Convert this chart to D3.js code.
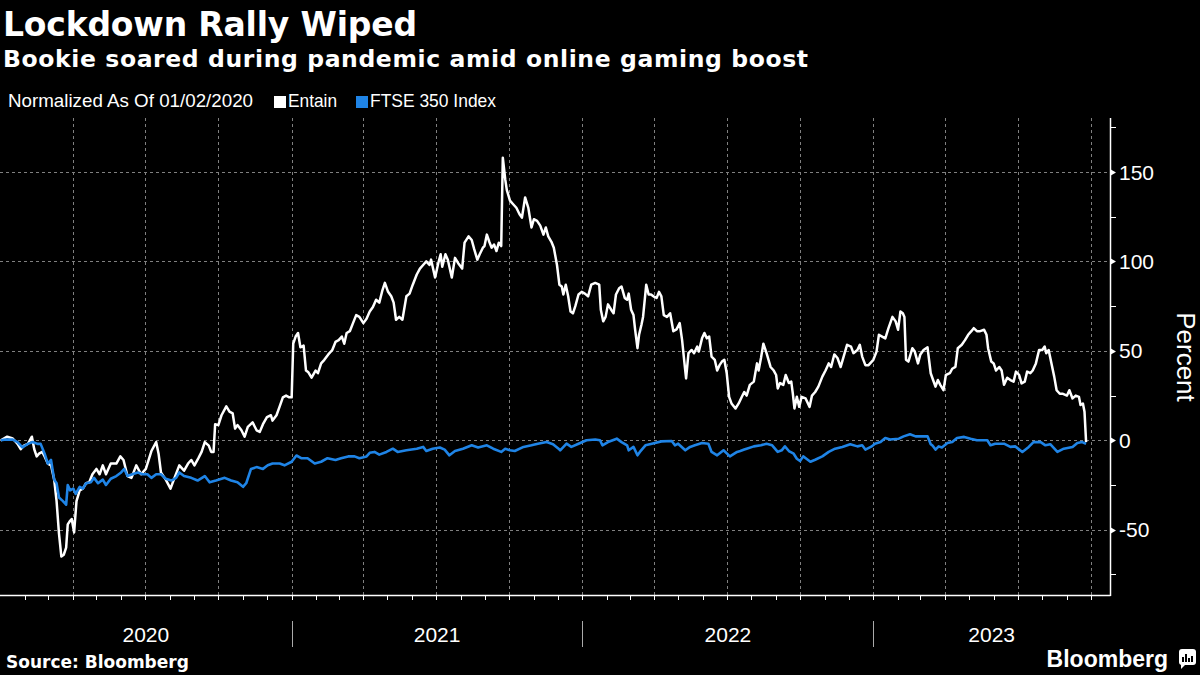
<!DOCTYPE html>
<html><head><meta charset="utf-8">
<script src="https://cdn.jsdelivr.net/npm/d3@7"></script>
<style>html,body{margin:0;padding:0;background:#000;} svg{display:block}</style>
</head><body><svg id="c" width="1200" height="675"></svg>
<script>
// Day offsets from 2020-01-01 and normalized % change
const entainDays=[1,9,16,22,26,30,35,40,43,46,49,53,56,60,64,68,71,74,77,80,83,85,88,90,93,96,100,104,108,112,116,121,125,129,133,139,146,151,155,160,165,171,177,183,190,196,199,202,208,214,219,225,231,236,240,244,249,253,257,262,265,268,270,274,278,284,288,292,295,298,303,307,311,317,322,326,330,335,340,342,347,351,355,359,363,366,368,371,374,377,381,384,387,391,396,399,403,407,412,417,421,425,429,432,435,439,443,447,451,456,460,464,468,472,476,480,483,487,491,494,497,501,505,510,514,518,523,527,531,535,539,541,546,550,553,555,559,562,567,571,575,580,583,588,592,595,599,602,606,608,611,614,617,620,623,626,629,631,634,636,640,644,648,652,655,659,663,667,670,674,678,682,685,688,692,695,699,702,705,707,710,713,716,719,722,726,730,734,738,742,747,752,754,757,760,763,767,770,773,777,780,784,787,789,792,795,797,800,802,805,807,811,814,817,820,824,827,830,833,837,841,845,849,853,856,859,861,864,868,871,875,877,881,884,887,890,893,897,900,903,906,909,912,915,918,923,927,931,934,937,941,946,950,952,955,958,962,967,971,974,976,979,983,986,990,993,995,997,1000,1003,1006,1011,1016,1019,1023,1027,1032,1036,1040,1043,1047,1051,1055,1060,1063,1068,1071,1076,1079,1082,1086,1090,1096,1100,1103,1107,1111,1115,1120,1124,1127,1130,1133,1135,1137,1140,1145,1148,1152,1155,1159,1164,1168,1171,1174,1177,1180,1184,1187,1192,1195,1199,1202,1207,1211,1215,1219,1222,1226,1230,1235,1238,1240,1244,1247,1250,1254,1257,1260,1264,1268,1272,1275,1279,1282,1286,1289,1293,1296,1300,1304,1308,1311,1313,1316,1320,1323,1326,1330,1334,1339,1342,1346,1350,1354,1356,1359,1361,1362,1363];
const entainValues=[0,2,1,-2,-5,-3,-2,2,-5,-9,-7.5,-6.5,-9,-13,-14,-22,-34,-52,-65,-64,-60,-47,-45,-44,-51.5,-34,-28,-27,-24,-23.5,-19,-16,-19,-14,-19,-13,-13,-9,-11,-20,-21,-14,-19,-16,-6,-1,-7.5,-18,-22,-27,-21,-14,-17,-13,-11,-14,-10,-6.5,-1,-3,-6.5,-6.5,9,8.5,14,19,16,15,6.5,8.5,5.6,2,7.5,10,5.6,4.7,9,13,14,11,14,19,24,25,24,24,54,58,60,52,53,39,38,35,39,37.5,43,45,48,50.5,55,56,58,54,60,61,65.5,70,69,65.5,68,72,74.5,78.6,77,84,88,83,80.5,77,67.4,69,67.4,80.5,82,87,92.7,96,98,100,98,101,91,99,104,97,104,101,91,102,99,96,110.5,114,112,107,101,104,107.7,108.6,115,111,107.7,109.5,105.8,110.5,108.6,158,146,140,134,132,130,126.4,124.5,135.8,130,119,123.6,122.7,120,115,119,114,111,107.7,98,87,86,81.5,87,80.5,72,71,75,81.5,83,82,80.5,87,88,87,73,66.5,69,76,73,71,81.5,85,86,79.6,78.6,82,73,70,62,51.5,59,64.6,69,87,81.5,81.5,80.5,79.6,83,80.5,70,69,71,61,62,65.5,56,43,34.6,48.7,50.5,48.7,52.4,49.6,57,60,57,58,46.8,45,39,42,44,45,37.5,24.3,20.6,17.8,20.6,24.3,27,25,31,32.8,43,39,46,54,48.7,41,39,36.5,29,32,31,36.5,32,32.8,26,17.8,24.3,18.7,24.3,23.4,18.7,25,27,30,35.6,39,43,41,48,46,41,48.7,53.4,52.4,48.7,50.5,53.4,46.8,42,42,45,49.6,59,58,57,62.7,69,66.5,61.8,72,71,69,45,44,51.5,49.6,43,48,50.5,52,37.5,33.7,30,33.7,31,28,36.5,37.5,40,41,51.5,53.4,56,59,61,62.7,61,61,61.8,59,51.5,44,43,39,41,39,31,35,33.7,32.8,38.4,36.5,31.8,32.8,38.4,37.5,39,43,50.5,50.5,52.4,48.7,50.5,42,35.6,28,26,26,25,28,23.4,25,24.3,19.7,20.6,16,7.5,-1];
const ftseDays=[1,7,16,22,28,35,41,47,51,56,60,64,68,71,74,79,83,85,88,92,95,100,104,108,114,118,123,129,133,139,146,152,156,160,166,173,179,185,190,196,202,208,215,221,225,231,240,248,257,263,271,282,290,298,305,309,315,322,330,336,342,351,357,366,372,378,386,395,403,411,421,428,437,445,451,460,464,470,476,485,493,499,510,523,531,535,543,552,558,564,571,581,592,600,611,619,629,634,640,646,657,667,675,686,694,701,703,711,717,726,736,747,753,756,763,774,780,787,789,795,800,803,810,818,830,843,847,851,860,866,872,881,889,893,900,908,916,925,929,934,937,946,955,962,969,976,981,985,990,996,1000,1004,1008,1012,1017,1023,1032,1040,1048,1057,1067,1076,1082,1086,1094,1098,1105,1111,1117,1128,1134,1142,1149,1157,1164,1168,1170,1174,1178,1182,1189,1195,1201,1210,1218,1226,1235,1239,1243,1249,1260,1268,1274,1283,1291,1297,1306,1312,1318,1327,1335,1346,1352,1358,1363];
const ftseValues=[0,0.4,0.4,-1,-4,-2,-1,-2,-2,-7.5,-13,-11,-22,-24,-32,-34,-36,-25,-28,-27,-30,-26,-27,-24,-23.5,-21,-24,-22,-25,-21.5,-20,-18,-16,-20,-19,-18,-19,-19,-21,-19,-19,-21.5,-22.5,-21,-18,-20,-21,-22.5,-20,-23.5,-22.5,-21,-22.5,-23.5,-26,-24,-16,-15,-16,-14,-13,-13,-14,-12,-8.5,-10,-10,-13,-12,-10,-11,-10,-9,-9,-10,-9,-7,-6.5,-8,-6.5,-4.7,-6.5,-5.6,-4.7,-3.7,-6,-4.7,-4,-5.2,-8.4,-6,-4.7,-2.8,-4,-2.8,-4.7,-6.5,-4.7,-5.6,-6,-3.7,-2.8,-1.9,-1,-2.2,-4.7,-5.6,-1.9,-3.7,-1.9,0,0.4,0,-2.8,-1,0.9,-1,-2.8,-5.6,-3.7,-8.4,-6.5,-2.8,-1.9,-0.6,-0.4,-2.8,-1.9,-5.6,-3.7,-2.8,-1.5,-1.9,-6.5,-8.4,-5.6,-9,-6.5,-6,-5.2,-4.7,-3.4,-2.8,-1.9,-2.8,-6.5,-5.6,-3.4,-6,-7.5,-10.3,-11.6,-9,-10.3,-12,-10.9,-9,-6.5,-4.7,-3.7,-2.2,-3.4,-2.8,-5.2,-3.4,-1.9,-1,1.3,0.4,0.9,2.2,3.4,2.2,2.2,2.2,-2.2,-2.8,-5.2,-3.4,-4,-1.5,-1,1.3,1.9,0.9,0,0,0,-2.8,-1.9,-1.9,-3.7,-3.4,-6.5,-3.7,-1,-1,-2.8,-2.2,-6.5,-4.7,-3.7,-1.5,-1,-1.9];
const yTicks=[-50,0,50,100,150];
const yMinorTicks=[-75,-25,25,75,125,175];
const yearLabels=["2020","2021","2022","2023"];
const legendItems=["Entain","FTSE 350 Index"];

const start=new Date(2020,0,1);
const toDate=d=>d3.timeDay.offset(start,d);
const entain=entainDays.map((d,i)=>({date:toDate(d),v:entainValues[i]}));
const ftse=ftseDays.map((d,i)=>({date:toDate(d),v:ftseValues[i]}));

const W=1200,H=675, L=0, R=1110, T=118, B=595;
const svg=d3.select('#c');
svg.append('rect').attr('width',W).attr('height',H).attr('fill','#000');

const x=d3.scaleTime().domain([new Date(2020,0,1),new Date(2023,9,25)]).range([L,R]);
const y=d3.scaleLinear().domain([-86.5,180.2]).range([B,T]);

// grid
const g=svg.append('g');
g.selectAll('line.hg').data(yTicks).join('line').attr('class','hg')
 .attr('x1',L).attr('x2',R).attr('y1',d=>Math.round(y(d))+0.5).attr('y2',d=>Math.round(y(d))+0.5)
 .attr('stroke','#808080').attr('stroke-width',1).attr('stroke-dasharray','3,3');
const quarters=d3.timeMonth.every(3).range(new Date(2020,3,1),x.domain()[1]);
g.selectAll('line.vg').data(quarters).join('line').attr('class','vg')
 .attr('x1',d=>Math.round(x(d))+0.5).attr('x2',d=>Math.round(x(d))+0.5).attr('y1',T).attr('y2',B)
 .attr('stroke','#808080').attr('stroke-width',1).attr('stroke-dasharray','3,3');

// lines
const line=d3.line().x(d=>x(d.date)).y(d=>y(d.v));
svg.append('path').datum(entain).attr('d',line).attr('fill','none').attr('stroke','#fff')
 .attr('stroke-width',2.5).attr('stroke-linejoin','round');
svg.append('path').datum(ftse).attr('d',line).attr('fill','none').attr('stroke','#1f84e6')
 .attr('stroke-width',2.6).attr('stroke-linejoin','round');

// bottom axis
svg.append('line').attr('x1',L).attr('x2',R+0.5).attr('y1',B+0.5).attr('y2',B+0.5).attr('stroke','#fff').attr('stroke-width',1.5);
const months=d3.timeMonth.range(new Date(2020,1,1),x.domain()[1]);
svg.selectAll('line.mt').data(months).join('line').attr('class','mt')
 .attr('x1',d=>Math.round(x(d))+0.5).attr('x2',d=>Math.round(x(d))+0.5).attr('y1',B).attr('y2',B+5)
 .attr('stroke','#fff').attr('stroke-width',1);
const yearStarts=yearLabels.map(s=>new Date(+s,0,1));
svg.selectAll('line.ys').data(yearStarts.slice(1)).join('line').attr('class','ys')
 .attr('x1',d=>Math.round(x(d))+0.5).attr('x2',d=>Math.round(x(d))+0.5).attr('y1',621).attr('y2',647)
 .attr('stroke','#aaa').attr('stroke-width',1);
svg.selectAll('text.yl').data(yearLabels).join('text').attr('class','yl')
 .attr('x',(d,i)=>{const a=Math.max(L,x(yearStarts[i]));const b=i<yearLabels.length-1?x(yearStarts[i+1]):R;return (a+b)/2;})
 .attr('y',642).attr('text-anchor','middle').attr('fill','#fff')
 .attr('font-family','Liberation Sans, Arial, sans-serif').attr('font-size',21).text(d=>d);

// right axis
svg.append('line').attr('x1',R+0.5).attr('x2',R+0.5).attr('y1',T).attr('y2',B+1).attr('stroke','#fff').attr('stroke-width',1.5);
svg.selectAll('line.ymt').data(yMinorTicks).join('line').attr('class','ymt')
 .attr('x1',R).attr('x2',R+6).attr('y1',d=>Math.round(y(d))+0.5).attr('y2',d=>Math.round(y(d))+0.5)
 .attr('stroke','#fff').attr('stroke-width',1);
svg.selectAll('path.ytri').data(yTicks).join('path').attr('class','ytri')
 .attr('d',d=>{const yy=Math.round(y(d))+0.5;return `M${R},${yy-3.5}L${R+6},${yy}L${R},${yy+3.5}Z`;})
 .attr('fill','#fff');
svg.selectAll('text.ytl').data(yTicks).join('text').attr('class','ytl')
 .attr('x',R+9).attr('y',d=>y(d)+7.5).attr('fill','#fff')
 .attr('font-family','Liberation Sans, Arial, sans-serif').attr('font-size',21).text(d=>d);
svg.append('text').attr('transform','translate(1177,357) rotate(90)').attr('text-anchor','middle')
 .attr('fill','#fff').attr('font-family','Liberation Sans, Arial, sans-serif').attr('font-size',26).text('Percent');

// titles
svg.append('text').attr('x',3).attr('y',36).attr('fill','#fff')
 .attr('font-family','DejaVu Sans, sans-serif').attr('font-weight','bold').attr('font-size',33)
 .attr('textLength',414).attr('lengthAdjust','spacing').text('Lockdown Rally Wiped');
svg.append('text').attr('x',3).attr('y',67).attr('fill','#fff')
 .attr('font-family','DejaVu Sans, sans-serif').attr('font-weight','bold').attr('font-size',23.5)
 .attr('textLength',805).attr('lengthAdjust','spacing').text('Bookie soared during pandemic amid online gaming boost');

// legend
const lf='Liberation Sans, Arial, sans-serif';
svg.append('text').attr('x',8).attr('y',107).attr('fill','#fff').attr('font-family',lf).attr('font-size',19)
 .attr('textLength',245).attr('lengthAdjust','spacingAndGlyphs').text('Normalized As Of 01/02/2020');
const legX=[274,356], legW=[49,126], legC=['#fff','#1f84e6'];
legendItems.forEach((t,i)=>{
  svg.append('rect').attr('x',legX[i]).attr('y',96).attr('width',12).attr('height',12).attr('fill',legC[i]);
  svg.append('text').attr('x',legX[i]+14).attr('y',107).attr('fill','#fff').attr('font-family',lf).attr('font-size',19)
   .attr('textLength',legW[i]).attr('lengthAdjust','spacingAndGlyphs').text(t);
});

// footer
svg.append('text').attr('x',6).attr('y',668).attr('fill','#fff')
 .attr('font-family','DejaVu Sans, sans-serif').attr('font-weight','bold').attr('font-size',17).text('Source: Bloomberg');
svg.append('text').attr('x',1168).attr('y',667).attr('text-anchor','end').attr('fill','#fff')
 .attr('font-family',lf).attr('font-weight','bold').attr('font-size',23).text('Bloomberg');
const ic=svg.append('g').attr('transform','translate(1179,649)');
ic.append('rect').attr('width',17).attr('height',16).attr('rx',3).attr('fill','#fff');
ic.append('path').attr('d','M2,15 L2,20 L7,15 Z').attr('fill','#fff');
[[4,8],[7,5],[10,9],[13,7]].forEach(([bx,bt])=>ic.append('rect').attr('x',bx-1).attr('y',bt).attr('width',2).attr('height',13-bt).attr('fill','#000'));
</script></body></html>
